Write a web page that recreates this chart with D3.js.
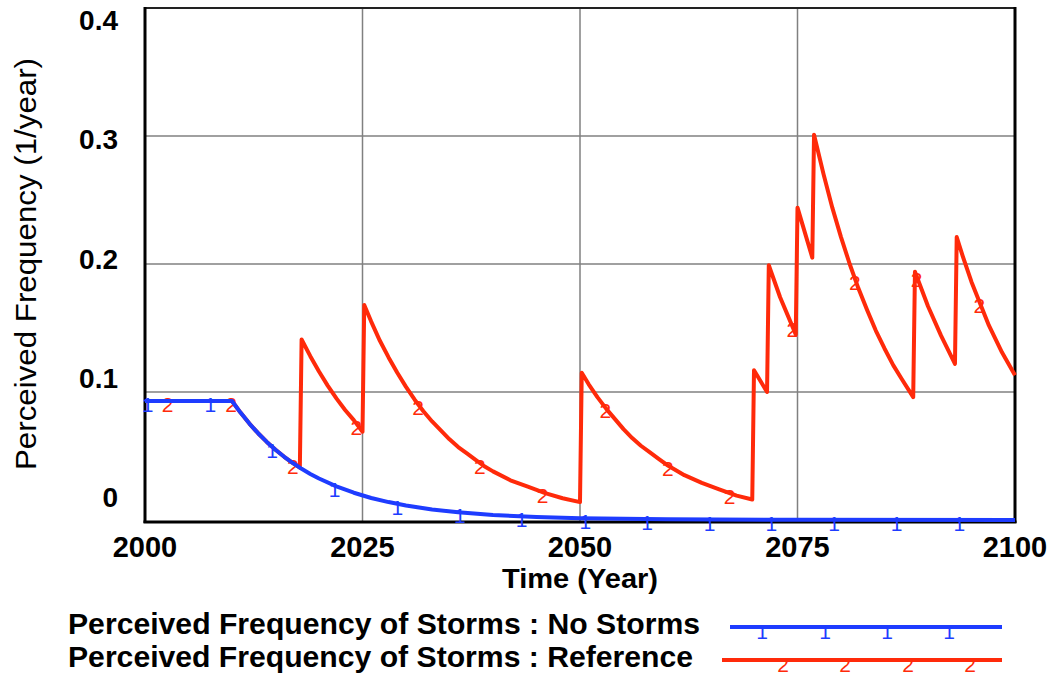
<!DOCTYPE html>
<html>
<head>
<meta charset="utf-8">
<script src="https://cdn.jsdelivr.net/npm/d3@7"></script>
<style>
  body { margin: 0; background: #fff; }
  svg { display: block; }
  text { font-family: "Liberation Sans", Arial, Helvetica, sans-serif; }
</style>
</head>
<body>
<svg id="chart" width="1051" height="677"></svg>
<script>
// ---- data ----
const yTicks = [0, 0.1, 0.2, 0.3, 0.4];
const yTickLabels = ["0", "0.1", "0.2", "0.3", "0.4"];
const xTicks = [2000, 2025, 2050, 2075, 2100];
const xTickLabels = ["2000", "2025", "2050", "2075", "2100"];

const noStormsTime = [2000, 2010, 2011, 2012, 2013, 2014, 2015, 2016, 2017, 2018, 2019, 2020, 2022, 2024, 2026, 2028, 2030, 2033, 2036, 2040, 2045, 2050, 2060, 2075, 2100];
const noStormsValue = [0.093, 0.093, 0.0837, 0.0753, 0.0678, 0.061, 0.0549, 0.0494, 0.0445, 0.04, 0.036, 0.0324, 0.0263, 0.0213, 0.0172, 0.014, 0.0113, 0.0082, 0.006, 0.0039, 0.0023, 0.0013, 0.0005, 0.0001, 0.0];

const referenceTime = [2000, 2010, 2011, 2012, 2013, 2014, 2015, 2016, 2017, 2017.8,
  2018, 2019, 2020, 2021, 2022, 2023, 2024, 2025,
  2025.2, 2026, 2027, 2028, 2029, 2030, 2031, 2032, 2033, 2034, 2035, 2036, 2037, 2038, 2039, 2040, 2042, 2044, 2046, 2048, 2050,
  2050.2, 2051, 2052, 2053, 2054, 2055, 2056, 2057, 2058, 2059, 2060, 2062, 2064, 2066, 2068, 2069.8,
  2070, 2071.5,
  2071.7, 2073, 2074.8,
  2075, 2076.7,
  2076.9, 2078, 2079, 2080, 2081, 2082, 2083, 2084, 2085, 2086, 2087, 2088.3,
  2088.5, 2090, 2091.5, 2093.1,
  2093.3, 2094, 2095, 2096, 2097, 2098.5, 2100];
const referenceValue = [0.093, 0.093, 0.0837, 0.0753, 0.0678, 0.061, 0.0549, 0.0494, 0.0445, 0.041,
  0.141, 0.128, 0.116, 0.105, 0.095, 0.086, 0.078, 0.069,
  0.168, 0.155, 0.140, 0.127, 0.115, 0.104, 0.094, 0.085, 0.077, 0.070, 0.063, 0.057, 0.052, 0.047, 0.042, 0.038, 0.031, 0.026, 0.021, 0.017, 0.014,
  0.115, 0.106, 0.096, 0.087, 0.079, 0.071, 0.064, 0.058, 0.053, 0.048, 0.043, 0.035, 0.029, 0.024, 0.019, 0.016,
  0.117, 0.100,
  0.199, 0.174, 0.145,
  0.244, 0.205,
  0.301, 0.270, 0.244, 0.221, 0.200, 0.181, 0.164, 0.148, 0.134, 0.121, 0.110, 0.096,
  0.194, 0.167, 0.144, 0.122,
  0.221, 0.206, 0.186, 0.169, 0.152, 0.131, 0.113];

const noStormsMarkerTime = [2000.3, 2007.5, 2014.6, 2021.8, 2029.0, 2036.2, 2043.3, 2050.6, 2057.7, 2064.9, 2072.0, 2079.2, 2086.4, 2093.6];
const referenceMarkerTime = [2002.6, 2009.9, 2017.0, 2024.3, 2031.4, 2038.5, 2045.7, 2052.9, 2060.1, 2067.2, 2074.4, 2081.6, 2088.7, 2095.9];

const seriesNames = ["Perceived Frequency of Storms : No Storms", "Perceived Frequency of Storms : Reference"];
const seriesColors = ["#1e3cff", "#ff2a0a"];
const seriesMarks = ["1", "2"];

// ---- layout ----
const svg = d3.select("#chart");
const pLeft = 145, pRight = 1015, pTop = 8, pBottom = 520;

const x = d3.scaleLinear().domain([2000, 2100]).range([pLeft, pRight]);
const y = d3.scaleLinear().domain([0, 0.4]).range([pBottom, pTop]);
// Vensim places value labels evenly in its own band
const yLabel = d3.scaleLinear().domain([0, 0.4]).range([497, 20]);

// grid
svg.append("g").selectAll("line").data(xTicks.slice(1, -1)).join("line")
  .attr("x1", d => x(d)).attr("x2", d => x(d)).attr("y1", pTop).attr("y2", pBottom + 2)
  .attr("stroke", "#808080").attr("stroke-width", 1.5);
svg.append("g").selectAll("line").data(yTicks.slice(1, -1)).join("line")
  .attr("x1", pLeft).attr("x2", pRight).attr("y1", d => y(d)).attr("y2", d => y(d))
  .attr("stroke", "#808080").attr("stroke-width", 1.5);

// frame
svg.append("line").attr("x1", pLeft).attr("x2", pRight).attr("y1", pTop).attr("y2", pTop).attr("stroke", "#222").attr("stroke-width", 2);
svg.append("line").attr("x1", pRight).attr("x2", pRight).attr("y1", pTop - 1).attr("y2", pBottom + 3).attr("stroke", "#000").attr("stroke-width", 3);
svg.append("line").attr("x1", pLeft).attr("x2", pLeft).attr("y1", pTop - 1).attr("y2", pBottom + 3).attr("stroke", "#000").attr("stroke-width", 3);
svg.append("line").attr("x1", pLeft - 1.5).attr("x2", pRight + 1.5).attr("y1", pBottom + 2).attr("y2", pBottom + 2).attr("stroke", "#000").attr("stroke-width", 3);

// y tick labels
svg.append("g").selectAll("text").data(yTicks).join("text")
  .attr("x", 118).attr("y", d => yLabel(d) + 10)
  .attr("text-anchor", "end").attr("font-size", 28).attr("font-weight", "bold")
  .text((d, i) => yTickLabels[i]);

// x tick labels
svg.append("g").selectAll("text").data(xTicks).join("text")
  .attr("x", d => x(d)).attr("y", 557)
  .attr("text-anchor", "middle").attr("font-size", 29).attr("font-weight", "bold")
  .text((d, i) => xTickLabels[i]);

// axis titles
svg.append("text").attr("x", 580).attr("y", 588).attr("text-anchor", "middle")
  .attr("font-size", 28).attr("font-weight", "bold")
  .attr("textLength", 156).attr("lengthAdjust", "spacingAndGlyphs")
  .text("Time (Year)");
svg.append("text").attr("transform", "translate(36,264) rotate(-90)").attr("text-anchor", "middle")
  .attr("font-size", 30)
  .attr("textLength", 412).attr("lengthAdjust", "spacingAndGlyphs")
  .text("Perceived Frequency (1/year)");

// series
const line = d3.line().x(d => x(d[0])).y(d => y(d[1]));
const seriesData = [
  d3.zip(noStormsTime, noStormsValue),
  d3.zip(referenceTime, referenceValue)
];
const markerTimes = [noStormsMarkerTime, referenceMarkerTime];
const timeArrays = [noStormsTime, referenceTime];
const valueArrays = [noStormsValue, referenceValue];

function valueAt(i, t) {
  const ts = timeArrays[i], vs = valueArrays[i];
  const j = d3.bisectRight(ts, t);
  if (j <= 0) return vs[0];
  if (j >= ts.length) return vs[vs.length - 1];
  const f = (t - ts[j - 1]) / (ts[j] - ts[j - 1]);
  return vs[j - 1] + f * (vs[j] - vs[j - 1]);
}

[1, 0].forEach(i => {
  svg.append("path").datum(seriesData[i])
    .attr("d", line).attr("fill", "none")
    .attr("stroke", seriesColors[i]).attr("stroke-width", 4)
    .attr("stroke-linejoin", "round");
  svg.append("g").selectAll("text").data(markerTimes[i]).join("text")
    .attr("x", t => x(t)).attr("y", t => y(valueAt(i, t)) + 11)
    .attr("text-anchor", "middle").attr("font-size", 21)
    .attr("fill", seriesColors[i]).text(seriesMarks[i]);
});

// legend
const legendY = [627, 660];
const legendX1 = [730, 722];
const legendTextLen = [632, 625];
const legendMarkX = [[762, 825, 887, 949], [783, 845, 908, 970]];
seriesNames.forEach((name, i) => {
  svg.append("text").attr("x", 68).attr("y", legendY[i] + 7)
    .attr("font-size", 29).attr("font-weight", "bold")
    .attr("textLength", legendTextLen[i]).attr("lengthAdjust", "spacingAndGlyphs")
    .text(name);
  svg.append("line").attr("x1", legendX1[i]).attr("x2", 1002)
    .attr("y1", legendY[i]).attr("y2", legendY[i])
    .attr("stroke", seriesColors[i]).attr("stroke-width", 4);
  svg.append("g").selectAll("text").data(legendMarkX[i]).join("text")
    .attr("x", d => d).attr("y", legendY[i] + 12)
    .attr("text-anchor", "middle").attr("font-size", 21)
    .attr("fill", seriesColors[i]).text(seriesMarks[i]);
});
</script>
</body>
</html>
